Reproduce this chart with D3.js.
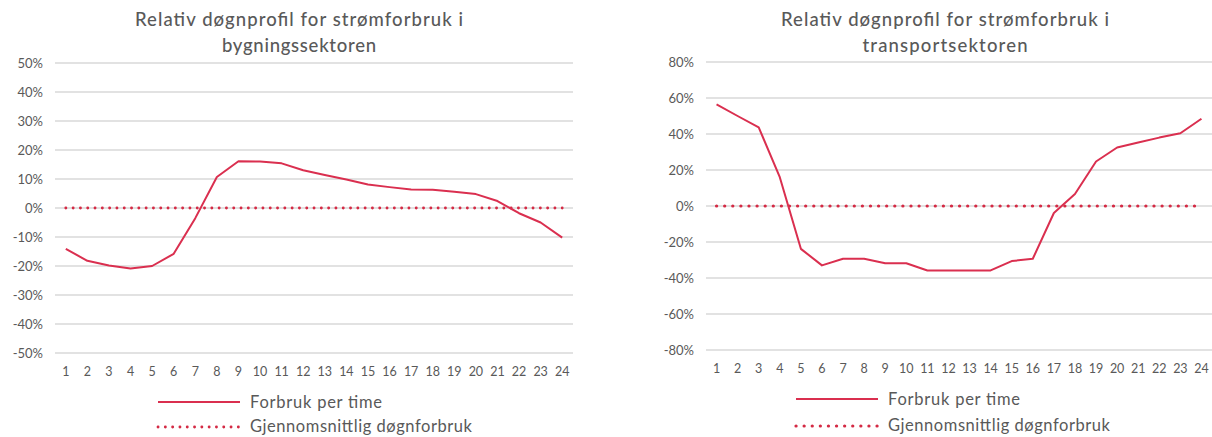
<!DOCTYPE html>
<html>
<head>
<meta charset="utf-8">
<script src="https://cdn.jsdelivr.net/npm/d3@7"></script>
<style>
  html, body { margin: 0; padding: 0; background: #ffffff; }
  svg { display: block; }
  text { font-family: Lato, "Open Sans", sans-serif; fill: #595959; }
</style>
</head>
<body>
<svg id="chart" width="1212" height="437"></svg>
<script>
// ---------- data ----------
const hours = ["1","2","3","4","5","6","7","8","9","10","11","12","13","14","15","16","17","18","19","20","21","22","23","24"];

const buildingValues = [-14.1, -18.2, -19.8, -20.9, -20.0, -15.8, -3.5, 10.7, 16.1, 16.0, 15.4, 13.0, 11.4, 9.8, 8.1, 7.2, 6.4, 6.3, 5.6, 4.8, 2.4, -1.8, -5.0, -10.2];
const buildingAverage = [0,0,0,0,0,0,0,0,0,0,0,0,0,0,0,0,0,0,0,0,0,0,0,0];
const buildingTicks = [-50, -40, -30, -20, -10, 0, 10, 20, 30, 40, 50];

const transportValues = [56.5, 50.0, 43.7, 16.0, -23.8, -33.0, -29.3, -29.3, -31.8, -31.8, -35.8, -35.8, -35.8, -35.8, -30.6, -29.3, -3.9, 6.7, 24.7, 32.5, 35.3, 38.0, 40.4, 48.5];
const transportAverage = [0,0,0,0,0,0,0,0,0,0,0,0,0,0,0,0,0,0,0,0,0,0,0,0];
const transportTicks = [-80, -60, -40, -20, 0, 20, 40, 60, 80];

const titleLine1 = "Relativ døgnprofil for strømforbruk i";
const buildingTitle2 = "bygningssektoren";
const transportTitle2 = "transportsektoren";
const legendLabels = ["Forbruk per time", "Gjennomsnittlig døgnforbruk"];

// ---------- drawing ----------
const svg = d3.select("#chart");
const RED = "#da2f4f";
const DOT = "#d42a44";

function drawPanel(cfg) {
  const g = svg.append("g");
  const x = d3.scaleBand().domain(hours).range([cfg.left, cfg.right]);
  const y = d3.scaleLinear().domain([cfg.ticks[0], cfg.ticks[cfg.ticks.length - 1]]).range([cfg.bottom, cfg.top]);
  const cx = d => x(d) + x.bandwidth() / 2;

  // gridlines
  g.append("g").selectAll("line").data(cfg.ticks).join("line")
    .attr("x1", cfg.left).attr("x2", cfg.right)
    .attr("y1", d => y(d)).attr("y2", d => y(d))
    .attr("stroke", "#d9d9d9").attr("stroke-width", 1.5);

  // y axis labels
  const yAxis = d3.axisLeft(y).tickValues(cfg.ticks).tickSize(0).tickPadding(0)
    .tickFormat(d => d + "%");
  const ya = g.append("g").attr("transform", `translate(${cfg.yLabelX},0)`).call(yAxis);
  ya.select(".domain").remove();
  ya.selectAll("text").style("font-family", "Lato, sans-serif").style("font-size", "13px")
    .attr("fill", "#595959").attr("dy", "0.35em");

  // x axis labels
  const xAxis = d3.axisBottom(x).tickSize(0).tickPadding(0);
  const xa = g.append("g").attr("transform", `translate(0,${cfg.xLabelY})`).call(xAxis);
  xa.select(".domain").remove();
  xa.selectAll("text").style("font-family", "Lato, sans-serif").style("font-size", "12.5px")
    .attr("fill", "#595959").attr("dy", "0.35em").attr("y", 0);

  // average dotted line
  const line = d3.line().x((d, i) => cx(hours[i])).y(d => y(d));
  g.append("path").datum(cfg.average)
    .attr("d", line).attr("fill", "none")
    .attr("stroke", DOT).attr("stroke-width", cfg.dotW)
    .attr("stroke-linecap", "round")
    .attr("stroke-dasharray", `0.1,${cfg.dotGap}`);

  // main line
  g.append("path").datum(cfg.values)
    .attr("d", line).attr("fill", "none")
    .attr("stroke", RED).attr("stroke-width", 2)
    .attr("stroke-linejoin", "round");

  // title
  const t = g.append("text").attr("text-anchor", "middle")
    .style("font-size", "18.5px").style("font-weight", "500").attr("fill", "#595959");
  t.append("tspan").attr("x", cfg.titleX).attr("y", cfg.titleY)
    .attr("textLength", 328).attr("lengthAdjust", "spacing").text(titleLine1);
  t.append("tspan").attr("x", cfg.titleX).attr("y", cfg.titleY + 26)
    .attr("textLength", cfg.title2W).attr("lengthAdjust", "spacing").text(cfg.title2);

  // legend
  const lg = g.append("g");
  lg.append("line").attr("x1", cfg.legX1).attr("x2", cfg.legX2)
    .attr("y1", cfg.legY1).attr("y2", cfg.legY1)
    .attr("stroke", RED).attr("stroke-width", 2);
  lg.append("line").attr("x1", cfg.legX1).attr("x2", cfg.legX2)
    .attr("y1", cfg.legY2).attr("y2", cfg.legY2)
    .attr("stroke", DOT).attr("stroke-width", cfg.dotW)
    .attr("stroke-linecap", "round").attr("stroke-dasharray", `0.1,${cfg.dotGap}`);
  lg.append("text").attr("x", cfg.legX2 + 10).attr("y", cfg.legY1).attr("dy", "0.35em")
    .attr("textLength", 132).attr("lengthAdjust", "spacing")
    .style("font-size", "16.5px").attr("fill", "#595959").text(legendLabels[0]);
  lg.append("text").attr("x", cfg.legX2 + 10).attr("y", cfg.legY2).attr("dy", "0.3em")
    .attr("textLength", 222).attr("lengthAdjust", "spacing")
    .style("font-size", "16.5px").attr("fill", "#595959").text(legendLabels[1]);
}

drawPanel({
  values: buildingValues, average: buildingAverage, ticks: buildingTicks,
  left: 55, right: 573, top: 63, bottom: 353,
  yLabelX: 43, xLabelY: 372,
  titleX: 299, titleY: 26, title2: buildingTitle2, title2W: 154,
  legX1: 158, legX2: 240, legY1: 402, legY2: 427,
  dotW: 2.8, dotGap: 7.2
});

drawPanel({
  values: transportValues, average: transportAverage, ticks: transportTicks,
  left: 706, right: 1212, top: 62, bottom: 350,
  yLabelX: 694, xLabelY: 369,
  titleX: 945, titleY: 26, title2: transportTitle2, title2W: 165,
  legX1: 796, legX2: 878, legY1: 399, legY2: 426,
  dotW: 3.2, dotGap: 8
});
</script>
</body>
</html>
